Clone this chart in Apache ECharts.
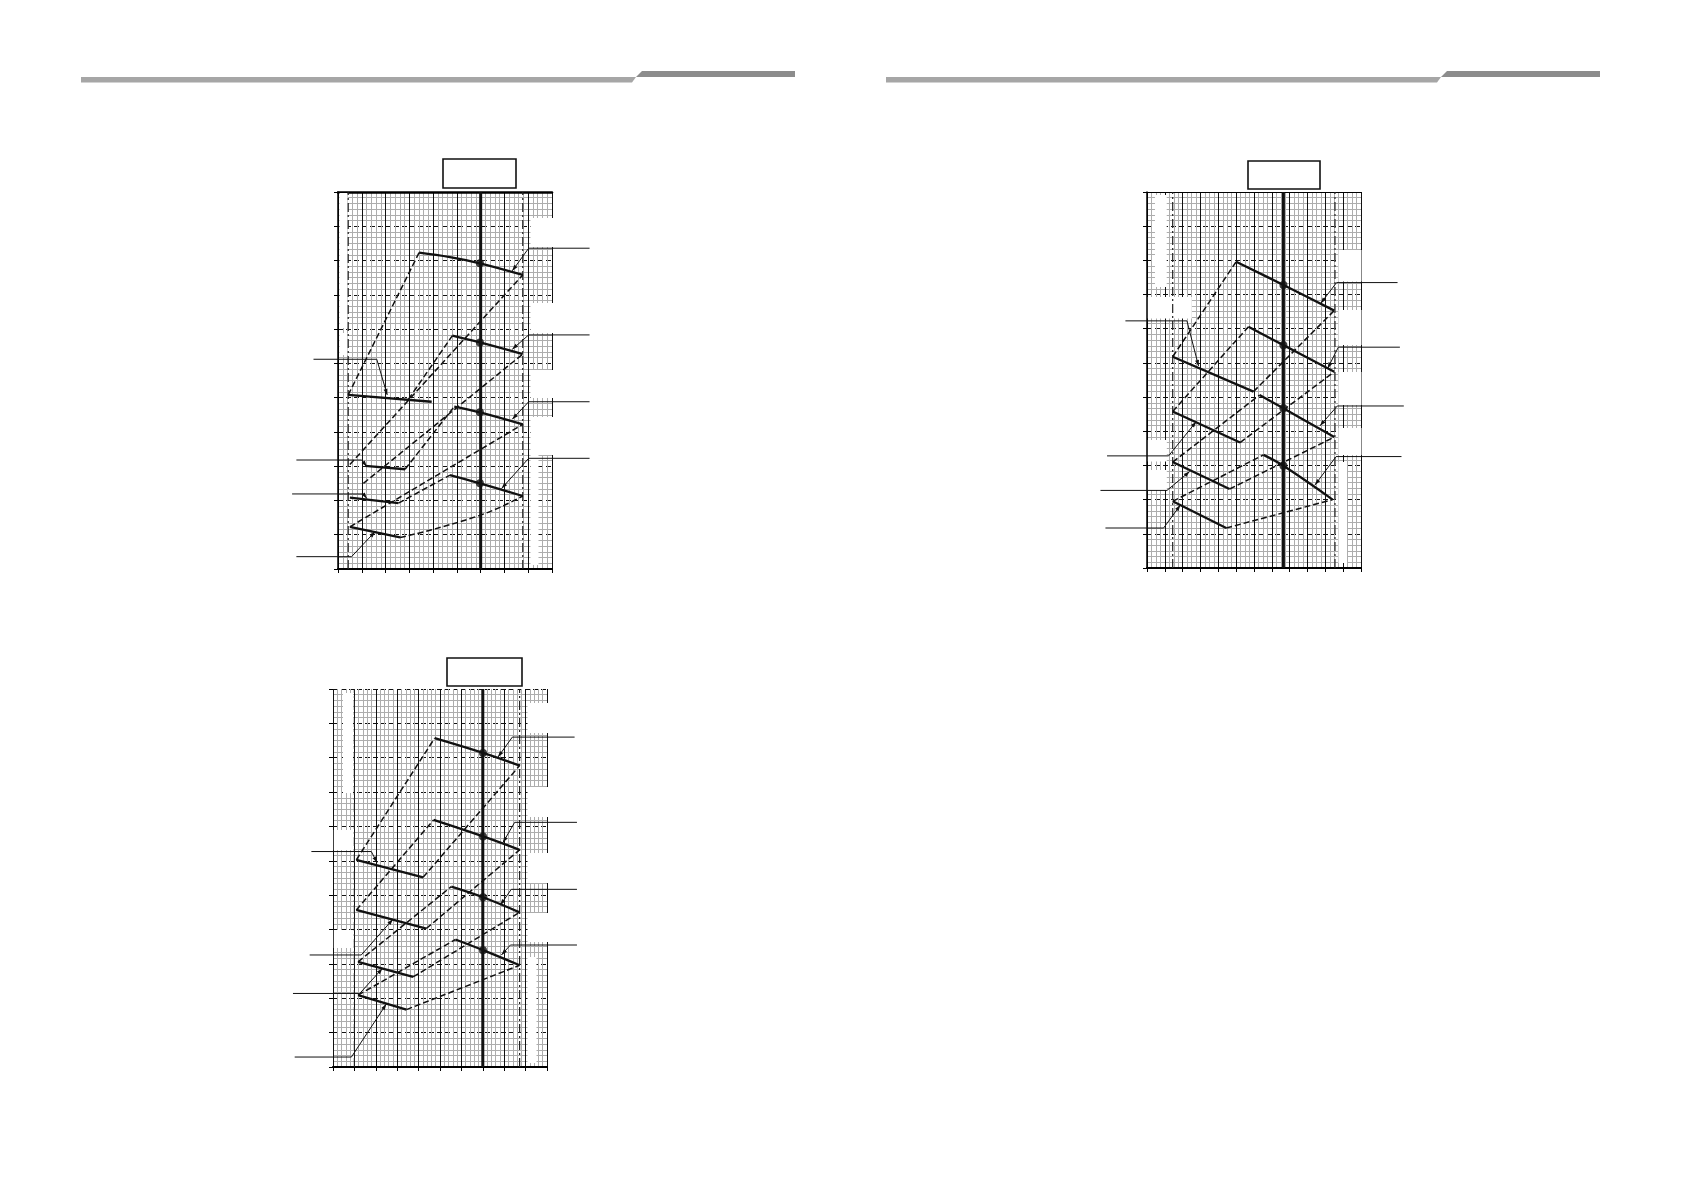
<!DOCTYPE html>
<html>
<head>
<meta charset="utf-8">
<script src="https://cdn.jsdelivr.net/npm/echarts@6/dist/echarts.min.js"></script>
<style>
  html, body { margin: 0; padding: 0; background: #fff; }
  #main { width: 1683px; height: 1191px; }
</style>
</head>
<body>
<div id="main"></div>
<script>
// ---- chart 1 (top left) ----
const c1Solid = [
  [[3.41, 9.23], [4.71, 9.10], [5.97, 8.92], [7.77, 8.58]],
  [[4.81, 6.81], [5.97, 6.61], [7.77, 6.27]],
  [[4.89, 4.74], [5.97, 4.57], [7.77, 4.22]],
  [[4.71, 2.74], [5.97, 2.50], [7.77, 2.13]],
  [[0.43, 5.08], [3.94, 4.88]],
  [[1.14, 3.01], [2.82, 2.91]],
  [[0.50, 2.08], [2.54, 1.92]],
  [[0.50, 1.23], [2.61, 0.92]]
];
const c1Dots = [[5.97, 8.92], [5.97, 6.61], [5.97, 4.57], [5.97, 2.50]];
const c1Dashed = [
  [[0.43, 5.08], [3.41, 9.23]],
  [[0.50, 3.05], [7.77, 8.58]],
  [[2.96, 4.95], [4.81, 6.81]],
  [[1.07, 2.50], [7.77, 6.27]],
  [[2.82, 2.91], [4.89, 4.74]],
  [[0.50, 1.23], [7.77, 4.22]],
  [[2.54, 1.92], [4.71, 2.74]],
  [[2.61, 0.92], [5.90, 1.55], [7.77, 2.13]]
];
const c1Limits = [0.43, 7.77];
const c1Duty = 6;
const c1Leaders = [
  [[10.58, 9.36], [8.02, 9.36], [7.33, 8.70]],
  [[10.58, 6.83], [8.02, 6.83], [7.33, 6.41]],
  [[10.58, 4.88], [8.02, 4.88], [7.33, 4.37]],
  [[10.58, 3.23], [8.02, 3.23], [6.88, 2.35]],
  [[-1.03, 6.12], [1.63, 6.12], [2.07, 5.08]],
  [[-1.75, 3.18], [1.00, 3.18], [1.21, 2.99]],
  [[-1.93, 2.19], [1.07, 2.19], [1.21, 2.06]],
  [[-1.75, 0.36], [0.57, 0.36], [1.56, 1.09]]
];

// ---- chart 2 (bottom left) ----
const c2Solid = [
  [[4.75, 9.57], [7.01, 9.14], [8.72, 8.77]],
  [[4.70, 7.19], [7.01, 6.71], [8.72, 6.32]],
  [[5.53, 5.25], [7.01, 4.94], [8.72, 4.50]],
  [[5.72, 3.71], [7.01, 3.40], [8.72, 2.96]],
  [[1.09, 6.03], [4.21, 5.52]],
  [[1.09, 4.57], [4.36, 4.03]],
  [[1.17, 3.06], [3.74, 2.62]],
  [[1.17, 2.09], [3.43, 1.67]]
];
const c2Dots = [[7.01, 9.14], [7.01, 6.71], [7.01, 4.94], [7.01, 3.40]];
const c2Dashed = [
  [[1.09, 6.03], [4.75, 9.57]],
  [[4.21, 5.52], [8.72, 8.77]],
  [[1.09, 4.57], [4.70, 7.19]],
  [[4.36, 4.03], [8.72, 6.32]],
  [[1.17, 3.06], [5.53, 5.25]],
  [[3.74, 2.62], [8.72, 4.50]],
  [[1.17, 2.09], [5.72, 3.71]],
  [[3.43, 1.67], [8.72, 2.96]]
];
const c2Limits = [1, 8.72];
const c2Duty = 7;
const c2Leaders = [
  [[11.29, 9.60], [8.38, 9.60], [7.71, 9.02]],
  [[11.40, 7.12], [8.49, 7.12], [7.94, 6.53]],
  [[11.40, 5.17], [8.33, 5.17], [7.82, 4.71]],
  [[11.40, 3.55], [8.29, 3.55], [7.87, 3.26]],
  [[-1.01, 6.27], [1.79, 6.27], [2.06, 5.95]],
  [[-1.09, 3.26], [1.32, 3.26], [2.80, 4.30]],
  [[-1.87, 2.14], [1.25, 2.14], [2.31, 2.87]],
  [[-1.79, 0.29], [0.86, 0.29], [2.49, 1.83]]
];

// ---- chart 3 (top right) ----
const c3Solid = [
  [[5.00, 8.96], [7.65, 8.28], [10.50, 7.53]],
  [[5.69, 7.06], [7.65, 6.52], [10.50, 5.74]],
  [[6.31, 5.06], [7.65, 4.67], [10.50, 3.83]],
  [[6.53, 3.31], [7.65, 2.99], [10.41, 2.00]],
  [[1.44, 6.18], [5.97, 5.16]],
  [[1.44, 4.58], [5.22, 3.67]],
  [[1.44, 3.10], [4.63, 2.31]],
  [[1.44, 1.95], [4.44, 1.17]]
];
const c3Dots = [[7.65, 8.28], [7.65, 6.52], [7.65, 4.67], [7.65, 2.99]];
const c3Dashed = [
  [[1.44, 6.18], [5.00, 8.96]],
  [[5.97, 5.16], [10.50, 7.53]],
  [[1.44, 4.58], [5.69, 7.06]],
  [[5.22, 3.67], [10.50, 5.74]],
  [[1.44, 3.10], [6.31, 5.06]],
  [[4.63, 2.31], [10.50, 3.83]],
  [[1.44, 1.95], [6.53, 3.31]],
  [[4.44, 1.17], [10.41, 2.00]]
];
const c3Limits = [1.44, 10.54];
const c3Duty = 7.65;
const c3Leaders = [
  [[14.05, 8.35], [10.63, 8.35], [9.74, 7.74]],
  [[14.18, 6.46], [10.73, 6.46], [10.13, 5.84]],
  [[14.40, 4.74], [10.67, 4.74], [9.70, 4.16]],
  [[14.27, 3.26], [10.60, 3.26], [9.42, 2.43]],
  [[-1.21, 7.23], [2.24, 7.23], [2.89, 5.91]],
  [[-2.24, 3.28], [1.21, 3.28], [2.76, 4.28]],
  [[-2.61, 2.27], [1.12, 2.27], [2.39, 2.82]],
  [[-2.33, 1.17], [0.93, 1.17], [1.87, 1.84]]
];

const yMax = 11;

const chart = echarts.init(document.getElementById('main'));

function xAx(gi, max, minorSplit) {
  return {
    type: 'value', gridIndex: gi, min: 0, max: max, interval: 1,
    axisLabel: { show: false },
    axisTick: { show: true, length: 4, lineStyle: { color: '#000', width: 1 } },
    axisLine: { onZero: false, lineStyle: { color: '#000', width: 2.2 } },
    splitLine: { show: true, lineStyle: { color: '#111', width: 1 } },
    minorTick: { show: false, splitNumber: minorSplit },
    minorSplitLine: { show: true, lineStyle: { color: '#adadad', width: 1 } }
  };
}
function topAx(gi, max, w) {
  return {
    type: 'value', gridIndex: gi, position: 'top', min: 0, max: max,
    axisLabel: { show: false }, axisTick: { show: false },
    axisLine: { show: true, onZero: false, lineStyle: { color: '#000', width: w } },
    splitLine: { show: false }
  };
}
function yAx(gi, lineW) {
  return {
    type: 'value', gridIndex: gi, min: 0, max: yMax, interval: 1,
    axisLabel: { show: false },
    axisTick: { show: true, length: 4, lineStyle: { color: '#000', width: 1 } },
    axisLine: { show: lineW > 0, onZero: false, lineStyle: { color: '#000', width: lineW } },
    splitLine: { show: true, lineStyle: { color: '#111', width: 1.2, type: [5, 3] } },
    minorTick: { show: false, splitNumber: 6 },
    minorSplitLine: { show: true, lineStyle: { color: '#adadad', width: 1 } }
  };
}

// leader lines run out past the plot, so they are drawn unclipped
function leaderSeries(gi, leaders) {
  return {
    type: 'custom', xAxisIndex: gi, yAxisIndex: gi, clip: false, silent: true, z: 6,
    data: leaders.map((l, i) => [l[0][0], l[0][1], i]),
    renderItem: function (params, api) {
      const pts = leaders[params.dataIndex].map(p => api.coord(p));
      const a = pts[pts.length - 2], b = pts[pts.length - 1];
      const len = Math.hypot(b[0] - a[0], b[1] - a[1]) || 1;
      const ux = (b[0] - a[0]) / len, uy = (b[1] - a[1]) / len;
      const head = [
        b,
        [b[0] - ux * 6 - uy * 2, b[1] - uy * 6 + ux * 2],
        [b[0] - ux * 6 + uy * 2, b[1] - uy * 6 - ux * 2]
      ];
      return {
        type: 'group',
        children: [
          { type: 'polyline', shape: { points: pts }, style: { stroke: '#111', lineWidth: 1, fill: null } },
          { type: 'polygon', shape: { points: head }, style: { fill: '#111' } }
        ]
      };
    }
  };
}

function chartSeries(gi, solid, dots, dashed, limits, duty, leaders) {
  const out = [];
  const base = { type: 'line', xAxisIndex: gi, yAxisIndex: gi, symbol: 'none', silent: true, animation: false };
  limits.forEach(x => out.push(Object.assign({}, base, {
    data: [[x, 0], [x, yMax]], z: 3,
    lineStyle: { color: '#222', width: 1.2, type: [9, 3, 2, 3] }
  })));
  out.push(Object.assign({}, base, {
    data: [[duty, 0], [duty, yMax]], z: 3,
    lineStyle: { color: '#111', width: 3 }
  }));
  dashed.forEach(d => out.push(Object.assign({}, base, {
    data: d, z: 4, smooth: d.length > 2,
    lineStyle: { color: '#111', width: 1.5, type: [6, 3] }
  })));
  solid.forEach(d => out.push(Object.assign({}, base, {
    data: d, z: 5, smooth: d.length > 2 ? 0.4 : false,
    lineStyle: { color: '#111', width: 2.3 }
  })));
  out.push(leaderSeries(gi, leaders));
  out.push({
    type: 'scatter', xAxisIndex: gi, yAxisIndex: gi, silent: true, z: 7,
    data: dots, symbol: 'circle', symbolSize: 8, itemStyle: { color: '#111' }
  });
  return out;
}

// white patches where the scanned page had its labels cleared
function mask(x, y, w, h) {
  return { type: 'rect', z: 1, silent: true, shape: { x: x, y: y, width: w, height: h }, style: { fill: '#fff' } };
}
function box(x, y, w, h) {
  return { type: 'rect', z: 10, silent: true, shape: { x: x, y: y, width: w, height: h }, style: { fill: '#fff', stroke: '#111', lineWidth: 1.6 } };
}
function header(x0, xt, xe) {
  return [
    { type: 'polygon', z: 10, silent: true,
      shape: { points: [[x0, 77], [xt + 4, 77], [xt, 82.5], [x0, 82.5]] },
      style: { fill: '#a6a6a6' } },
    { type: 'polygon', z: 10, silent: true,
      shape: { points: [[xt + 4, 77], [xt + 10, 71], [xe, 71], [xe, 77]] },
      style: { fill: '#8c8c8c' } }
  ];
}

const graphics = [].concat(
  header(81, 632, 795),
  header(886, 1437, 1600),
  [
    box(443, 159, 73, 29),
    box(447, 658, 75, 28),
    box(1248, 161, 72, 28),
    // chart 1
    mask(339.5, 193, 8, 135), mask(339.5, 333, 8, 22),
    mask(530.5, 218, 22.5, 29), mask(530.5, 303, 22.5, 30), mask(530.5, 370, 22.5, 28),
    mask(530.5, 417, 22.5, 38), mask(530.5, 455, 8, 110),
    // chart 2
    mask(343, 693, 10, 100), mask(333.8, 830, 20, 20), mask(333.8, 930, 20, 18),
    mask(527.5, 703, 20.5, 30), mask(527.5, 787, 20.5, 30), mask(527.5, 853, 20.5, 30),
    mask(527.5, 913, 20.5, 29), mask(527.5, 957, 9, 106),
    // chart 3
    mask(1155, 195, 11.7, 92), mask(1147.8, 297, 44, 21.5), mask(1147.8, 440, 19, 21.5),
    mask(1147.8, 470, 19, 20),
    mask(1338.5, 250, 23, 31.5), mask(1338.5, 310, 23, 35), mask(1338.5, 372, 23, 33),
    mask(1338.5, 428, 23, 27), mask(1338.5, 462, 8.5, 101)
  ]
);

const option = {
  backgroundColor: '#fff',
  animation: false,
  grid: [
    { left: 338, top: 192, width: 214, height: 377 },
    { left: 333, top: 689, width: 214, height: 378 },
    { left: 1147, top: 192, width: 214, height: 376 }
  ],
  xAxis: [
    xAx(0, 9, 5), xAx(1, 10, 5), xAx(2, 12, 4),
    topAx(0, 9, 2.5), topAx(2, 12, 1.2)
  ],
  yAxis: [yAx(0, 1.5), yAx(1, 0), yAx(2, 1.5)],
  graphic: { elements: graphics },
  series: [].concat(
    chartSeries(0, c1Solid, c1Dots, c1Dashed, c1Limits, c1Duty, c1Leaders),
    chartSeries(1, c2Solid, c2Dots, c2Dashed, c2Limits, c2Duty, c2Leaders),
    chartSeries(2, c3Solid, c3Dots, c3Dashed, c3Limits, c3Duty, c3Leaders)
  )
};

chart.setOption(option);
</script>
</body>
</html>
